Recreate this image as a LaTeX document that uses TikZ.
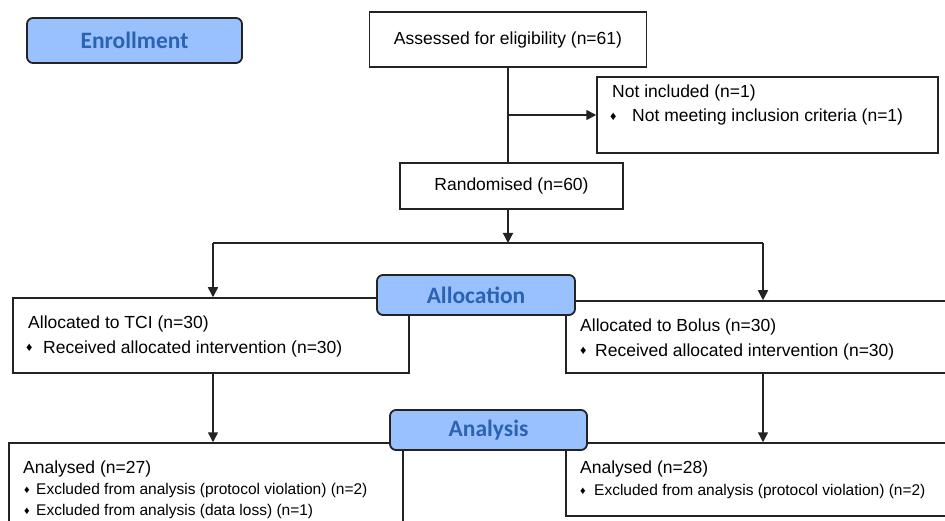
\documentclass[tikz,border=0pt]{standalone}
\usepackage{fontspec}
\setmainfont{Liberation Sans}
\newfontfamily\headfont{Carlito}
\usetikzlibrary{arrows.meta}
\definecolor{headfill}{RGB}{153,193,255}
\definecolor{headtext}{RGB}{43,98,178}
\definecolor{linec}{RGB}{35,35,35}
\newcommand{\dmd}[3]{\makebox[#1][l]{\raisebox{#2}{\fontsize{#3}{#3}\selectfont ♦}}}
\begin{document}
\begin{tikzpicture}[x=1pt,y=-1pt,
  box/.style={draw=linec, line width=1.5pt, fill=white, inner sep=0pt, rectangle,
    font=\fontsize{17.5}{20}\selectfont},
  head/.style={draw=linec, line width=1.8pt, rounded corners=6pt, fill=headfill,
    text=headtext, inner sep=0pt, font=\headfont\bfseries\fontsize{23.5}{23.5}\selectfont},
  txt/.style={anchor=base west, inner sep=0pt, font=\fontsize{17.5}{20}\selectfont},
  smalltxt/.style={anchor=base west, inner sep=0pt, font=\fontsize{15.5}{18}\selectfont},
  arr/.style={draw=linec, line width=1.5pt, -{Triangle[length=10pt,width=10pt]}},
  ln/.style={draw=linec, line width=1.5pt}]
\useasboundingbox (0,0) rectangle (945,521);
\fill[white] (0,0) rectangle (945,521);

% boxes
\node[box, minimum width=277pt, minimum height=55pt] (assess) at (508,39.5) {Assessed for eligibility (n=61)};
\node[box, minimum width=341pt, minimum height=76pt] (notinc) at (767.5,115) {};
\node[box, minimum width=223pt, minimum height=46pt] (rand) at (511.5,186) {Randomised (n=60)};
\node[box, minimum width=396pt, minimum height=75pt] (tci) at (211,335.5) {};
\node[box, minimum width=399pt, minimum height=72pt] (bolus) at (765.5,337) {};
\node[box, minimum width=394pt, minimum height=97pt] (tcian) at (206,491.5) {};
\node[box, minimum width=399pt, minimum height=73pt] (bolan) at (765.5,479.5) {};

% texts
\node[txt] (ni1) at (612,98) {Not included (n=1)};
\node[txt] (ni2) at (610,122) {\dmd{22pt}{1.5pt}{12.5}Not meeting inclusion criteria (n=1)};
\node[txt] (t1) at (28,329) {Allocated to TCI (n=30)};
\node[txt] (t2) at (26,353) {\dmd{17pt}{1.5pt}{12.5}Received allocated intervention (n=30)};
\node[txt] (b1) at (580,331) {Allocated to Bolus (n=30)};
\node[txt] (b2) at (580,356) {\dmd{15pt}{1.5pt}{12.5}Received allocated intervention (n=30)};
\node[txt] (ta1) at (23,473) {Analysed (n=27)};
\node[smalltxt] (ta2) at (24,494) {\dmd{12pt}{1pt}{11}Excluded from analysis (protocol violation) (n=2)};
\node[smalltxt] (ta3) at (24,515) {\dmd{12pt}{1pt}{11}Excluded from analysis (data loss) (n=1)};
\node[txt] (ba1) at (580,473) {Analysed (n=28)};
\node[smalltxt] (ba2) at (580,495) {\dmd{14pt}{1pt}{11}Excluded from analysis (protocol violation) (n=2)};

% connectors
\coordinate (split) at (508,243);
\coordinate (L) at (213,243);
\coordinate (R) at (763,243);
\draw[ln] (assess.south) -- (assess.south |- rand.north);
\draw[arr] (assess.south |- notinc.west) -- (notinc.west);
\draw[arr] (assess.south |- rand.south) -- (split);
\draw[ln] (L) -- (R);
\draw[arr] (L) -- (L |- tci.north);
\draw[arr] (R) -- (R |- bolus.north);
\draw[arr] (L |- tci.south) -- (L |- tcian.north);
\draw[arr] (R |- bolus.south) -- (R |- bolan.north);

% headings
\node[head, minimum width=215pt, minimum height=45pt] (enr) at (134.5,40.5) {Enrollment};
\node[head, minimum width=198pt, minimum height=40pt] (alloc) at (476,295) {Allocation};
\node[head, minimum width=197pt, minimum height=40pt] (anal) at (488.5,430) {Analysis};
\end{tikzpicture}
\end{document}
